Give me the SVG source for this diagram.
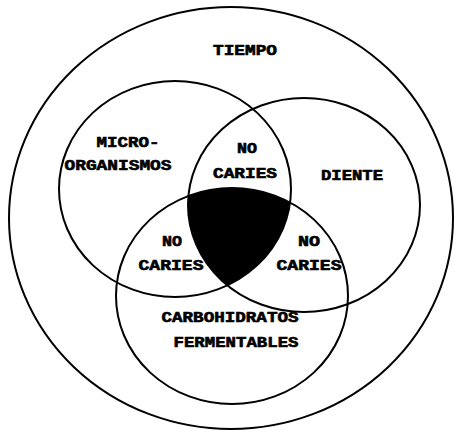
<svg xmlns="http://www.w3.org/2000/svg" width="458" height="432" viewBox="0 0 458 432">
<style>
.c{fill:none;stroke:#000;stroke-width:2}
.t{font-family:"Liberation Mono","Courier New",monospace;font-weight:bold;font-size:14px;fill:#000;stroke:#000;stroke-width:0.6;text-anchor:middle}
</style>
<defs>
<clipPath id="clipL"><ellipse cx="175" cy="189" rx="116" ry="108"/></clipPath>
<clipPath id="clipR"><ellipse cx="304" cy="205" rx="116" ry="107"/></clipPath>
</defs>
<rect width="458" height="432" fill="#fff"/>
<g id="core">
<g clip-path="url(#clipL)"><ellipse cx="232" cy="296" rx="116" ry="108" fill="#000" clip-path="url(#clipR)"/></g>
</g>
<g id="connectors"></g>
<g id="tiempo">
<ellipse class="c" cx="231" cy="218" rx="222" ry="211"/>
<text class="t" x="245" y="55" textLength="64" lengthAdjust="spacingAndGlyphs">TIEMPO</text>
</g>
<g id="micro">
<ellipse class="c" cx="175" cy="189" rx="116" ry="108"/>
<text class="t" x="128" y="147" textLength="63" lengthAdjust="spacingAndGlyphs">MICRO-</text>
<text class="t" x="118" y="170" textLength="107" lengthAdjust="spacingAndGlyphs">ORGANISMOS</text>
</g>
<g id="diente">
<ellipse class="c" cx="304" cy="205" rx="116" ry="107"/>
<text class="t" x="352" y="180" textLength="62" lengthAdjust="spacingAndGlyphs">DIENTE</text>
</g>
<g id="carbohidratos">
<ellipse class="c" cx="232" cy="296" rx="116" ry="108"/>
<text class="t" x="230" y="322" textLength="137" lengthAdjust="spacingAndGlyphs">CARBOHIDRATOS</text>
<text class="t" x="236" y="347" textLength="125" lengthAdjust="spacingAndGlyphs">FERMENTABLES</text>
</g>
<g id="nocaries-top">
<text class="t" x="247" y="153" textLength="20" lengthAdjust="spacingAndGlyphs">NO</text>
<text class="t" x="245" y="178" textLength="64" lengthAdjust="spacingAndGlyphs">CARIES</text>
</g>
<g id="nocaries-left">
<text class="t" x="172" y="246" textLength="20" lengthAdjust="spacingAndGlyphs">NO</text>
<text class="t" x="171" y="270" textLength="65" lengthAdjust="spacingAndGlyphs">CARIES</text>
</g>
<g id="nocaries-right">
<text class="t" x="309" y="246" textLength="22" lengthAdjust="spacingAndGlyphs">NO</text>
<text class="t" x="309" y="270" textLength="65" lengthAdjust="spacingAndGlyphs">CARIES</text>
</g>
</svg>
